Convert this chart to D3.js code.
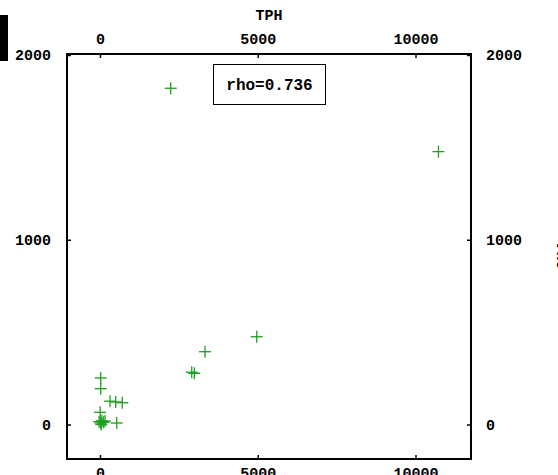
<!DOCTYPE html>
<html><head><meta charset="utf-8">
<script src="https://cdn.jsdelivr.net/npm/d3@7"></script>
<style>body{margin:0;background:#fff}svg{display:block}</style>
</head><body>
<script>
const xTicks = [0, 5000, 10000];
const yTicks = [0, 1000, 2000];
const tphValues = [2241, 10727, 4968, 3329, 2907, 2990, 22, 22, 317, 497, 707, 5, -30, 20, 60, 110, 160, 40, 530];
const yValues   = [1820, 1477, 475, 394, 283, 277, 252, 194, 126, 122, 118, 66, 15, 8, 20, 12, 18, 0, 8];
const xTitle = "TPH";
const rhoText = "rho=0.736";

const W = 558, H = 475;
const frame = {l: 67, r: 471, t: 54, b: 459};
const svg = d3.select("body").append("svg").attr("width", W).attr("height", H);
const font = "'Liberation Mono', 'Courier New', monospace";

const x = d3.scaleLinear().domain([0, 10000]).range([100, 415.5]);
const y = d3.scaleLinear().domain([0, 2000]).range([424.5, 55]);

// clipped elements at page edges
svg.append("rect").attr("x", 0).attr("y", 15).attr("width", 8).attr("height", 46).attr("fill", "#000");
svg.append("text").attr("transform", "translate(567,256) rotate(-90)")
  .attr("text-anchor", "middle").attr("font-family", font).attr("font-weight", "bold")
  .attr("font-size", 15).text("CH4");

// frame
svg.append("rect").attr("x", frame.l).attr("y", frame.t)
  .attr("width", frame.r - frame.l).attr("height", frame.b - frame.t)
  .attr("fill", "none").attr("stroke", "#000").attr("stroke-width", 2);

function styleAxis(g) {
  g.select(".domain").remove();
  g.selectAll(".tick line").attr("stroke", "#000").attr("stroke-width", 1.5);
  g.selectAll(".tick text").attr("font-family", font).attr("font-weight", "bold")
    .attr("font-size", 15).attr("fill", "#000");
}
const ts = -4;
svg.append("g").attr("transform", `translate(0,${frame.b})`)
  .call(d3.axisBottom(x).tickValues(xTicks).tickSize(ts).tickPadding(8).tickFormat(d3.format("d")))
  .call(styleAxis);
svg.append("g").attr("transform", `translate(0,${frame.t})`)
  .call(d3.axisTop(x).tickValues(xTicks).tickSize(ts).tickPadding(10).tickFormat(d3.format("d")))
  .call(styleAxis);
svg.append("g").attr("transform", `translate(${frame.l},0)`)
  .call(d3.axisLeft(y).tickValues(yTicks).tickSize(ts).tickPadding(16).tickFormat(d3.format("d")))
  .call(styleAxis);
svg.append("g").attr("transform", `translate(${frame.r},0)`)
  .call(d3.axisRight(y).tickValues(yTicks).tickSize(ts).tickPadding(15).tickFormat(d3.format("d")))
  .call(styleAxis);

// x title
svg.append("text").attr("x", 269).attr("y", 20)
  .attr("text-anchor", "middle").attr("font-family", font).attr("font-weight", "bold")
  .attr("font-size", 15).text(xTitle);

// rho box
svg.append("rect").attr("x", 213.5).attr("y", 64.5).attr("width", 112).attr("height", 40)
  .attr("fill", "#fff").attr("stroke", "#000").attr("stroke-width", 1);
svg.append("text").attr("x", 269.5).attr("y", 90).attr("text-anchor", "middle")
  .attr("font-family", font).attr("font-weight", "bold").attr("font-size", 16).text(rhoText);

// points
const pts = tphValues.map((v, i) => [v, yValues[i]]);
const s = 6;
const g = svg.append("g").attr("stroke", "#1f9e1f").attr("stroke-width", 1.3);
pts.forEach(([a, b]) => {
  const px = x(a), py = y(b);
  g.append("line").attr("x1", px - s).attr("x2", px + s).attr("y1", py).attr("y2", py);
  g.append("line").attr("x1", px).attr("x2", px).attr("y1", py - s).attr("y2", py + s);
});
</script>
</body></html>
